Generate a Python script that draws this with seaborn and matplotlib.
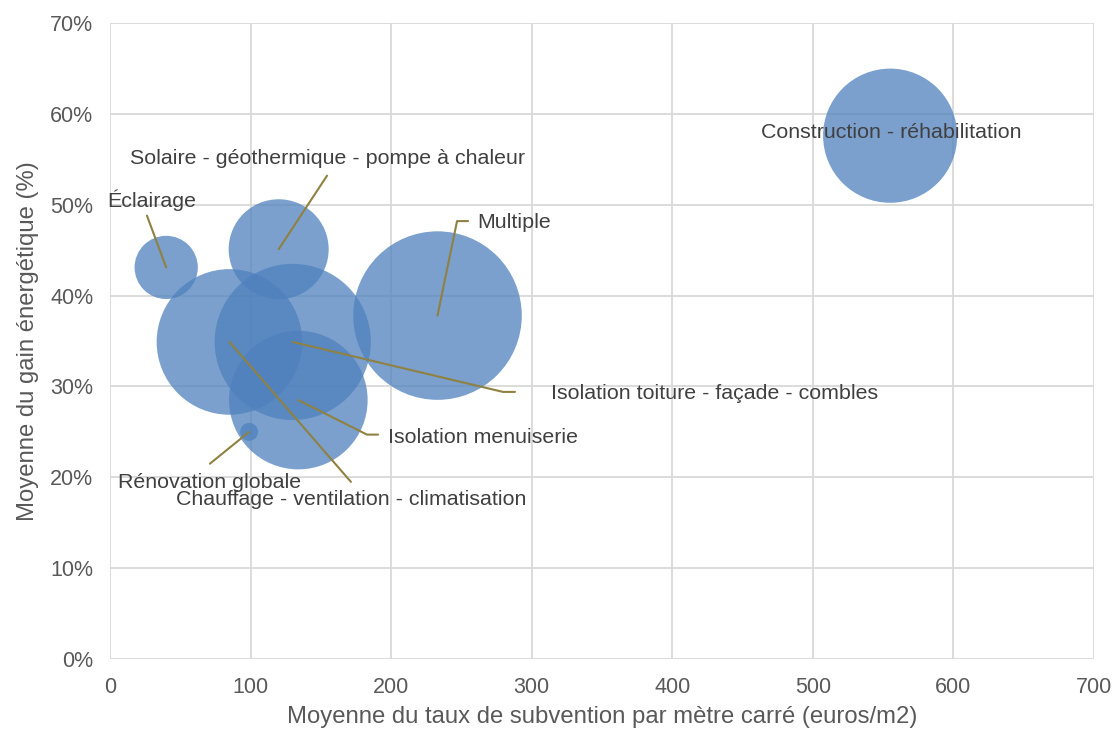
import matplotlib
matplotlib.use("Agg")
import matplotlib.pyplot as plt
import seaborn as sns
import pandas as pd
from matplotlib.ticker import PercentFormatter, MultipleLocator

# ---- data ----
categories = ["Éclairage", "Solaire - géothermique - pompe à chaleur",
              "Chauffage - ventilation - climatisation",
              "Isolation toiture - façade - combles", "Isolation menuiserie",
              "Rénovation globale", "Multiple", "Construction - réhabilitation"]
subvention_m2 = [40, 120, 85, 130, 134, 99, 233, 555]
gain_energetique = [0.431, 0.451, 0.349, 0.349, 0.285, 0.250, 0.378, 0.576]
taille = [10, 25, 53, 61, 48, 0.8, 71, 45]

df = pd.DataFrame({"cat": categories, "x": subvention_m2,
                   "y": gain_energetique, "s": taille})

sns.set_theme(style="white")
plt.rcParams["font.family"] = ["Liberation Sans", "DejaVu Sans"]

fig = plt.figure(figsize=(11.12, 7.29), dpi=100)
ax = fig.add_axes([0.0989, 0.096, 0.8849, 0.8724])

smax = max(taille)
sns.scatterplot(data=df, x="x", y="y", size="s", sizes=(0, 207.4 * smax),
                size_norm=(0, smax), color="#4F81BD", alpha=0.75,
                linewidth=0, legend=False, ax=ax, zorder=3)

ax.set_xlim(0, 700)
ax.set_ylim(0, 0.70)
ax.xaxis.set_major_locator(MultipleLocator(100))
ax.yaxis.set_major_locator(MultipleLocator(0.10))
ax.yaxis.set_major_formatter(PercentFormatter(1.0, decimals=0))
ax.grid(True, color="#D9D9D9", linewidth=1.3, zorder=0)
ax.set_axisbelow(True)
for sp in ax.spines.values():
    sp.set_visible(False)
ax.tick_params(axis="both", length=0, labelsize=15.5, colors="#595959")
ax.tick_params(axis="y", pad=12)
ax.tick_params(axis="x", pad=13)
ax.set_xlabel("Moyenne du taux de subvention par mètre carré (euros/m2)",
              fontsize=17.2, color="#595959", labelpad=6)
ax.set_ylabel("Moyenne du gain énergétique (%)", fontsize=17.2,
              color="#595959", labelpad=8)

# ---- labels with leader lines (layout) ----
line_c = "#8F8142"
txt_c = "#404040"
fs = 15.4
layout = {
    "Éclairage": dict(text=(29.9, 0.505, "center"), path=[(26.3, 0.488)]),
    "Solaire - géothermique - pompe à chaleur": dict(text=(154.4, 0.551, "center"), path=[(154.4, 0.532)]),
    "Multiple": dict(text=(261, 0.481, "left"), path=[(254.7, 0.482), (246.9, 0.482)]),
    "Isolation toiture - façade - combles": dict(text=(313.7, 0.292, "left"), path=[(288.1, 0.294), (279.6, 0.294)]),
    "Isolation menuiserie": dict(text=(197.8, 0.244, "left"), path=[(190.7, 0.247), (182.8, 0.247)]),
    "Rénovation globale": dict(text=(71.1, 0.194, "center"), path=[(71.1, 0.215)]),
    "Chauffage - ventilation - climatisation": dict(text=(171.4, 0.176, "center"), path=[(171.4, 0.195)]),
    "Construction - réhabilitation": dict(text=(556, 0.579, "center"), path=[]),
}
for cat, xv, yv in zip(categories, subvention_m2, gain_energetique):
    lay = layout[cat]
    pts = lay["path"]
    if pts:
        xs = [p[0] for p in pts] + [xv]
        ys = [p[1] for p in pts] + [yv]
        ax.plot(xs, ys, color=line_c, linewidth=1.5, zorder=4)
    tx, ty, ha = lay["text"]
    ax.text(tx, ty, cat, ha=ha, va="center", fontsize=fs, color=txt_c, zorder=5)

fig.savefig("out.png", dpi=100)
